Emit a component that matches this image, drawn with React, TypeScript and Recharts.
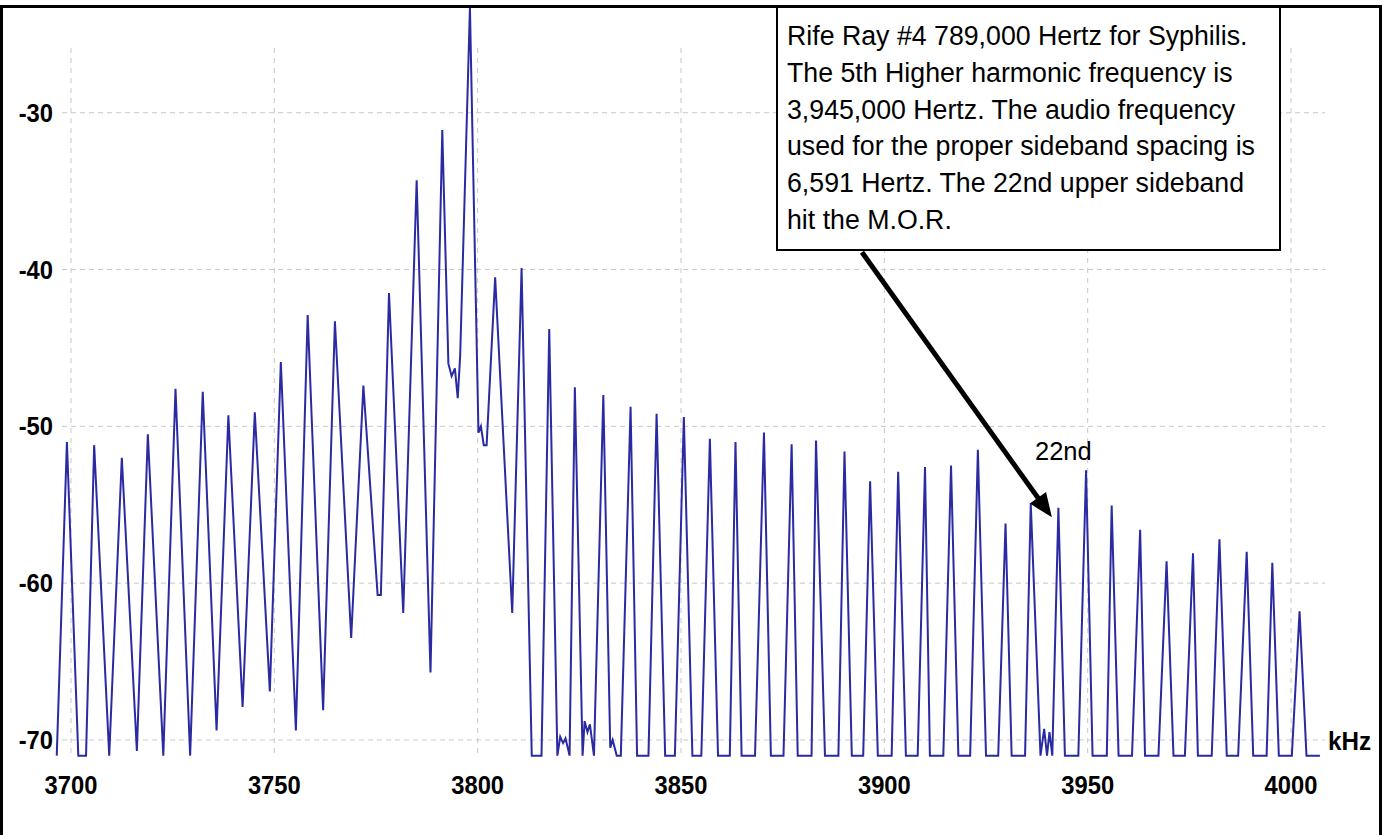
import React from 'react';
import { LineChart, Line, XAxis, YAxis, ReferenceLine } from 'recharts';

// spectrum trace (kHz / dB)
const freqKHz = [
  3696.5, 3699.0, 3701.8, 3703.7, 3705.7, 3709.4, 3712.5, 3716.2, 3718.9, 3722.7,
  3725.7, 3729.3, 3732.4, 3735.8, 3738.7, 3742.2, 3745.2, 3748.9, 3751.6, 3755.3,
  3758.2, 3762.0, 3764.9, 3768.9, 3771.9, 3775.4, 3776.2, 3778.2, 3781.7, 3785.0,
  3788.4, 3791.3, 3792.8, 3793.6, 3794.4, 3795.1, 3795.7, 3798.1, 3800.2, 3800.8,
  3801.5, 3802.2, 3804.3, 3808.5, 3810.8, 3813.3, 3815.7, 3817.6, 3819.6, 3820.3,
  3821.0, 3821.6, 3822.6, 3823.9, 3825.8, 3826.3, 3827.0, 3827.6, 3828.6, 3830.9,
  3832.6, 3833.2, 3834.2, 3835.2, 3837.6, 3839.2, 3842.0, 3844.0, 3846.1, 3848.5,
  3850.7, 3852.8, 3855.0, 3857.1, 3859.1, 3862.0, 3863.4, 3864.9, 3868.2, 3870.4,
  3872.1, 3875.2, 3877.2, 3878.7, 3882.1, 3883.2, 3885.4, 3888.7, 3890.2, 3892.0,
  3894.8, 3896.5, 3898.4, 3901.8, 3903.4, 3905.3, 3908.2, 3910.0, 3911.2, 3914.5,
  3916.4, 3918.2, 3921.1, 3923.0, 3925.0, 3928.0, 3929.8, 3931.3, 3934.6, 3936.0,
  3938.4, 3939.3, 3940.0, 3940.6, 3941.3, 3942.8, 3944.4, 3947.7, 3949.6, 3951.2,
  3954.7, 3955.9, 3957.6, 3960.9, 3962.9, 3964.1, 3967.4, 3969.4, 3971.1, 3973.9,
  3975.9, 3977.1, 3980.5, 3982.4, 3984.2, 3987.0, 3989.1, 3990.7, 3994.0, 3995.4,
  3997.0, 4000.2, 4002.1, 4003.8, 4007.1,
];

const levelDb = [
  -71, -51.0, -71, -71, -51.2, -71, -52.0, -70.7, -50.5, -71,
  -47.6, -71, -47.8, -69.4, -49.3, -67.9, -49.1, -66.9, -45.9, -69.4,
  -42.9, -68.1, -43.3, -63.5, -47.4, -60.75, -60.75, -41.5, -61.9, -34.3,
  -65.7, -31.1, -46.0, -46.8, -46.3, -48.2, -45.5, -23.3, -50.4, -50.0,
  -51.2, -51.2, -40.5, -61.9, -39.9, -71, -71, -43.8, -71, -69.8,
  -70.2, -69.9, -71, -47.5, -71, -68.8, -69.5, -69.0, -71, -48.0,
  -70.5, -70.0, -71, -71, -48.75, -71, -71, -49.2, -71, -71,
  -49.4, -71, -71, -50.8, -71, -71, -51.0, -71, -71, -50.4,
  -71, -71, -51.15, -71, -71, -50.9, -71, -71, -51.6, -71,
  -71, -53.5, -71, -71, -52.9, -71, -71, -52.6, -71, -71,
  -52.5, -71, -71, -51.5, -71, -71, -56.2, -71, -71, -54.9,
  -71, -69.3, -71, -69.5, -71, -55.2, -71, -71, -52.8, -71,
  -71, -55.05, -71, -71, -56.6, -71, -71, -58.6, -71, -71,
  -58.1, -71, -71, -57.2, -71, -71, -58.0, -71, -71, -58.7,
  -71, -71, -61.8, -71, -71,
];

const xTicks = [3700, 3750, 3800, 3850, 3900, 3950, 4000];
const yTicks = [-70, -60, -50, -40, -30];

const noteLines = [
  'Rife Ray #4 789,000 Hertz for Syphilis.',
  'The 5th Higher harmonic frequency is',
  '3,945,000 Hertz. The audio frequency',
  'used for the proper sideband spacing is',
  '6,591 Hertz. The 22nd upper sideband',
  'hit the M.O.R.',
];

// arrow from the note box down to the 22nd upper sideband
const arrowFrom = { x: 3894.5, y: -38.9 };
const arrowTo = { x: 3941.2, y: -55.8 };

const data = freqKHz.map((f, i) => ({ f, v: levelDb[i] }));

const tickFont = "'Liberation Sans', Arial, sans-serif";

const YTick = ({ y, payload }: any) => (
  <text
    transform={`translate(53 ${y + 9}) scale(0.95 1)`}
    textAnchor="end"
    fontFamily={tickFont}
    fontWeight="bold"
    fontSize={25}
    fill="#000"
  >
    {payload.value}
  </text>
);

const XTick = ({ x, y, payload }: any) => (
  <text
    transform={`translate(${x} ${y + 30.5}) scale(0.95 1)`}
    textAnchor="middle"
    fontFamily={tickFont}
    fontWeight="bold"
    fontSize={25}
    fill="#000"
  >
    {payload.value}
  </text>
);

const ArrowShape = ({ x1, y1, x2, y2 }: any) => {
  const dx = x2 - x1;
  const dy = y2 - y1;
  const len = Math.sqrt(dx * dx + dy * dy);
  const ux = dx / len;
  const uy = dy / len;
  const head = 24;
  const half = 10;
  const bx = x2 - ux * head;
  const by = y2 - uy * head;
  const pts = `${x2},${y2} ${bx - uy * half},${by + ux * half} ${bx + uy * half},${by - ux * half}`;
  return (
    <g>
      <line x1={x1} y1={y1} x2={bx + ux * 2} y2={by + uy * 2} stroke="#000" strokeWidth={5} />
      <polygon points={pts} fill="#000" />
    </g>
  );
};

const App = () => {
  return (
    <div style={{ position: 'absolute', left: 0, top: 0, width: 1384, height: 835, background: '#fff', overflow: 'hidden' }}>
      <LineChart width={1384} height={835} data={data} margin={{ top: 3, right: 48, left: 0, bottom: 0 }}>
        <XAxis
          dataKey="f"
          type="number"
          domain={[3696.07, 4011.06]}
          allowDataOverflow
          ticks={xTicks}
          axisLine={false}
          tickLine={false}
          tickSize={0}
          tickMargin={0}
          height={72}
          tick={<XTick />}
        />
        <YAxis
          type="number"
          domain={[-71.47, -23.0]}
          allowDataOverflow
          ticks={yTicks}
          axisLine={false}
          tickLine={false}
          tickSize={0}
          tickMargin={0}
          width={55}
          tick={<YTick />}
        />
        {yTicks.map((t) => (
          <ReferenceLine
            key={`h${t}`}
            segment={[{ x: 3697.8, y: t }, { x: 4008.4, y: t }]}
            stroke="#c8c8c8"
            strokeDasharray="5 4"
            strokeWidth={1}
          />
        ))}
        {xTicks.map((t) => (
          <ReferenceLine
            key={`v${t}`}
            segment={[{ x: t, y: -25.87 }, { x: t, y: -70.83 }]}
            stroke="#c8c8c8"
            strokeDasharray="5 5"
            strokeWidth={1}
          />
        ))}
        <Line
          type="linear"
          dataKey="v"
          stroke="#2a2aa2"
          strokeWidth={2}
          dot={false}
          isAnimationActive={false}
        />
        <ReferenceLine segment={[arrowFrom, arrowTo]} shape={ArrowShape} />
      </LineChart>

      <svg width={1384} height={835} style={{ position: 'absolute', left: 0, top: 0, pointerEvents: 'none' }}>
        <rect x={777} y={7} width={503} height={243} fill="#fff" stroke="#000" strokeWidth={2} />
        {noteLines.map((line, i) => (
          <text
            key={i}
            transform={`translate(787 ${45 + i * 36.8}) scale(0.955 1)`}
            fontFamily={tickFont}
            fontSize={28}
            fill="#000"
          >
            {line}
          </text>
        ))}
        <text x={1035} y={460} fontFamily={tickFont} fontSize={25.5} fill="#000">22nd</text>
        <text transform="translate(1328 750) scale(0.97 1)" fontFamily={tickFont} fontSize={25} fontWeight="bold" fill="#000">kHz</text>
      </svg>

      <div
        style={{
          position: 'absolute',
          left: 0,
          top: 5,
          width: 1382,
          height: 840,
          boxSizing: 'border-box',
          borderTop: '3px solid #000',
          borderLeft: '3px solid #000',
          borderRight: '3px solid #000',
          pointerEvents: 'none',
        }}
      />
    </div>
  );
};

export default App;
